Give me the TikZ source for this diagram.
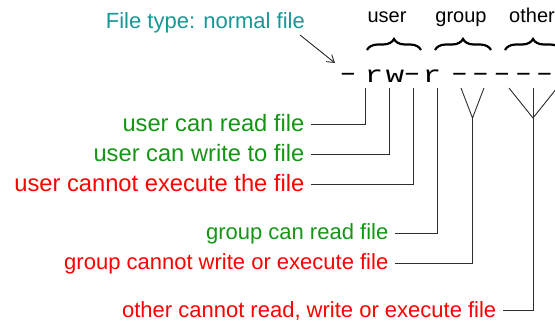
\documentclass[tikz,border=0pt]{standalone}
\usepackage{fontspec}
\setmainfont{Liberation Sans}
\newfontfamily\monofont{Liberation Mono}
\usetikzlibrary{arrows.meta,decorations.pathreplacing}
\definecolor{typeteal}{RGB}{25,150,150}
\definecolor{okgreen}{RGB}{20,150,20}
\definecolor{nored}{RGB}{255,0,0}
\definecolor{wirecol}{RGB}{45,45,45}
% one character of the permission string, set wide
\newcommand\permletter[1]{\scalebox{1.3}[1]{#1}}
\newcommand\permdash{\makebox[12pt]{\raisebox{2pt}{\scalebox{1.9}[1]{-}}}}
\begin{document}
\begin{tikzpicture}[x=1pt,y=-1pt,
  lbl/.style={anchor=east, font=\fontsize{22}{26}\selectfont, inner xsep=6.5pt,
    inner ysep=0pt, text height=13pt, text depth=0pt},
  biglbl/.style={lbl, font=\fontsize{23.7}{28}\selectfont},
  allow/.style={text=okgreen},
  deny/.style={text=nored},
  permchar/.style={anchor=base, font=\monofont\fontsize{23.5}{28}\selectfont, inner sep=0pt},
  wire/.style={draw=wirecol, line width=0.9pt},
  classlabel/.style={anchor=base, font=\fontsize{20}{24}\selectfont, inner sep=0pt},
  classbrace/.style={decorate, decoration={brace, amplitude=11pt}, line width=2.2pt}]
\useasboundingbox (0,0) rectangle (555,324);
\clip (0,0) rectangle (555,324);

% permission string
\node[permchar] (c1)  at (348,82)   {\permdash};
\node[permchar] (c2)  at (374,82)   {\permletter{r}};
\node[permchar] (c3)  at (395,82)   {\permletter{w}};
\node[permchar] (c4)  at (412,82)   {\permdash};
\node[permchar] (c5)  at (432,82)   {\permletter{r}};
\node[permchar] (c6)  at (459.5,82) {\permdash};
\node[permchar] (c7)  at (480.5,82) {\permdash};
\node[permchar] (c8)  at (502,82)   {\permdash};
\node[permchar] (c9)  at (523.5,82) {\permdash};
\node[permchar] (c10) at (544.5,82) {\permdash};

% file type
\node[anchor=base east, text=typeteal, font=\fontsize{22}{26}\selectfont, inner sep=0pt]
  (ftype) at (305,28) {File type: normal file};
\coordinate (ftail) at (300,35);
\coordinate (ftip) at (335,63);
\draw[wire, -{Straight Barb[length=7pt,width=9pt]}] (ftail) -- (ftip);

% classes
\node[classlabel] (ulab) at (387,23) {user};
\node[classlabel] (glab) at (461,23) {group};
\node[classlabel] (olab) at (532,23) {other};
\draw[classbrace] (367,50) -- (421,50);
\draw[classbrace] (435,50) -- (491,50);
\draw[classbrace] (505,50) -- (561,50);

% labels
\node[biglbl, allow] (l1) at (311,124.5) {user can read file};
\node[biglbl, allow] (l2) at (311,154.5) {user can write to file};
\node[biglbl, deny]  (l3) at (311,184.5) {user cannot execute the file};
\node[lbl, allow] (l4) at (395,233.3) {group can read file};
\node[lbl, deny]  (l5) at (395,263.3) {group cannot write or execute file};
\node[lbl, deny]  (l6) at (503,310.7) {other cannot read, write or execute file};

% line tops under the characters
\coordinate (t1) at (365,88);
\coordinate (t2) at (389,88);
\coordinate (t3) at (413,88);
\coordinate (t4) at (437,88);
\coordinate (g1) at (461,88);
\coordinate (g2) at (484,88);
\coordinate (gv) at (472.5,118);
\coordinate (o1) at (509,88);
\coordinate (o2) at (533,88);
\coordinate (o3) at (557,88);
\coordinate (ov) at (533,118);

% connectors
\draw[wire] (t1) |- (l1.east);
\draw[wire] (t2) |- (l2.east);
\draw[wire] (t3) |- (l3.east);
\draw[wire] (t4) |- (l4.east);
\draw[wire] (g1) -- (gv) -- (g2);
\draw[wire] (gv) |- (l5.east);
\draw[wire] (o1) -- (ov) -- (o3);
\draw[wire] (o2) -- (ov);
\draw[wire] (ov) |- (l6.east);
\end{tikzpicture}
\end{document}
